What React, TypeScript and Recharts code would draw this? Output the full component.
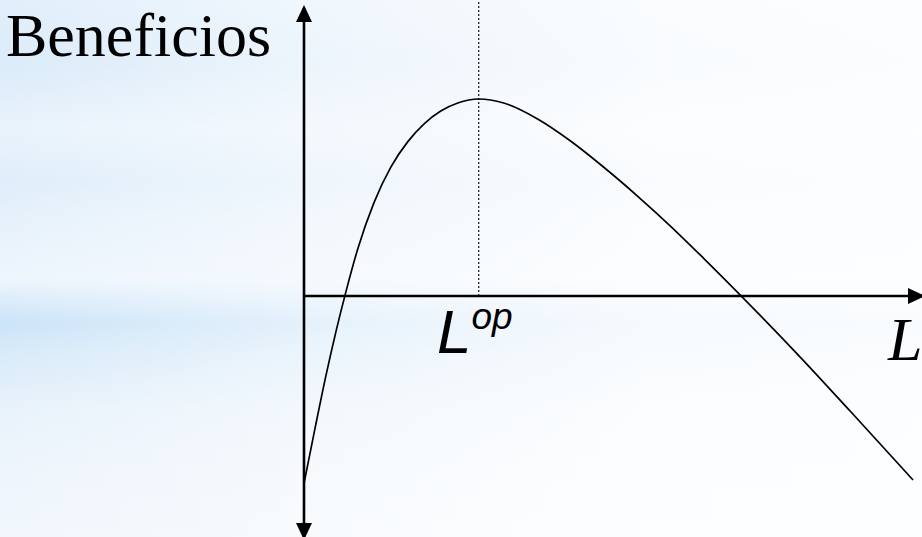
import { ComposedChart, Line, ReferenceLine, XAxis, YAxis } from "recharts";

// labour L (x) and profit "Beneficios" (y)
const L_VALUES = [
  0, 1.78, 3.55, 5.17, 6.79, 8.72, 11.31, 14.05, 16.8, 19.39, 22.13, 24.88,
  28.27, 32.31, 37.8, 43.13, 48.46, 53.96, 59.29, 64.62, 70.76, 80.29, 88.37,
  98.55,
];
const BENEFIT_VALUES = [
  -63.31, -44.73, -26.89, -12.03, 1.49, 16.08, 31.49, 43.55, 52.16, 58.11,
  62.5, 65.2, 66.55, 65.2, 59.8, 52.36, 43.58, 33.78, 23.65, 12.84, 0, -20.61,
  -38.85, -62.16,
];
const L_OPT = 28.27;
const X_DOMAIN = [0, 100];
const Y_DOMAIN = [-81.4, 100];
const Y_AXIS_TOP = 97.3;

const data = L_VALUES.map((l, i) => ({ l, b: BENEFIT_VALUES[i] }));

const background = [
  "linear-gradient(to right, rgba(255,255,255,0) 0%, rgba(255,255,255,0.5) 35%, rgba(255,255,255,0.82) 70%, rgba(255,255,255,0.88) 100%)",
  "linear-gradient(to bottom, #e2effb 0%, #dbebf9 12%, #e9f3fc 24%, #dfeefa 34%, #e6f1fb 40%, #edf5fd 52%, #cbe4f8 60%, #d9ebf9 66%, #e8f2fb 76%, #eef5fc 88%, #f1f7fd 100%)",
].join(",");

const ArrowLine = (props: any) => (
  <line
    x1={props.x1}
    y1={props.y1}
    x2={props.x2}
    y2={props.y2}
    stroke="#000"
    strokeWidth={2.6}
    markerEnd="url(#arrow-head)"
    markerStart={props.both ? "url(#arrow-head)" : undefined}
  />
);

export default function App() {
  return (
    <div
      style={{
        position: "fixed",
        top: 0,
        left: 0,
        width: 922,
        height: 537,
        background,
        overflow: "hidden",
      }}
    >
      <ComposedChart
        width={922}
        height={537}
        data={data}
        margin={{ top: 0, right: 0, bottom: 0, left: 304 }}
      >
        <defs>
          <marker
            id="arrow-head"
            markerUnits="userSpaceOnUse"
            markerWidth={17}
            markerHeight={16}
            refX={14}
            refY={8}
            orient="auto-start-reverse"
          >
            <path d="M0,0 L17,8 L0,16 z" fill="#000" />
          </marker>
        </defs>
        <XAxis type="number" dataKey="l" domain={X_DOMAIN} hide />
        <YAxis type="number" domain={Y_DOMAIN} hide width={0} />
        <ReferenceLine
          segment={[
            { x: L_OPT, y: 0 },
            { x: L_OPT, y: Y_DOMAIN[1] },
          ]}
          stroke="#222"
          strokeWidth={1.3}
          strokeDasharray="2 2"
        />
        <ReferenceLine
          segment={[
            { x: 0, y: 0 },
            { x: X_DOMAIN[1], y: 0 },
          ]}
          shape={(p: any) => <ArrowLine {...p} />}
        />
        <ReferenceLine
          segment={[
            { x: 0, y: Y_DOMAIN[0] },
            { x: 0, y: Y_AXIS_TOP },
          ]}
          shape={(p: any) => <ArrowLine {...p} both />}
        />
        <Line
          type="monotone"
          dataKey="b"
          stroke="#000"
          strokeWidth={1.7}
          dot={false}
          isAnimationActive={false}
        />
        <text
          x={6}
          y={56}
          fontFamily="'Liberation Serif', 'Times New Roman', serif"
          fontSize={62}
          fill="#000"
        >
          Beneficios
        </text>
        <text
          x={437}
          y={353}
          fontFamily="'Liberation Sans', Arial, sans-serif"
          fontStyle="italic"
          fontSize={62}
          fill="#000"
        >
          L
          <tspan fontSize={37} dy={-24}>
            op
          </tspan>
        </text>
        <text
          x={888}
          y={360}
          fontFamily="'Liberation Serif', 'Times New Roman', serif"
          fontStyle="italic"
          fontSize={62}
          fill="#000"
        >
          L
        </text>
      </ComposedChart>
    </div>
  );
}
